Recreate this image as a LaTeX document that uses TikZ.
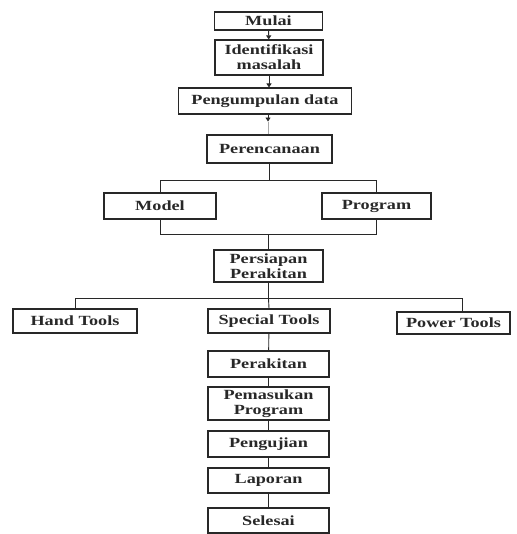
\documentclass[tikz,border=0pt]{standalone}
\usepackage{fontspec}
\setmainfont{Liberation Serif}[FakeStretch=1.3]
\usetikzlibrary{positioning, arrows.meta, calc}
\definecolor{LineGray}{RGB}{40, 40, 40}

\tikzset{
  stepbox/.style={draw=LineGray, line width=1.1pt, align=center, inner sep=0pt,
    font=\bfseries\fontsize{14}{15}\selectfont, text=LineGray},
  link/.style={draw=LineGray, line width=0.9pt},
  flow/.style={link, -{Triangle[length=4pt,width=5pt]}}
}

\begin{document}
\begin{tikzpicture}[x=1pt, y=1pt]
    \useasboundingbox (0,0) rectangle (516,-534);

    % Top of the flow
    \node[stepbox, minimum width=108, minimum height=18] (mulai) at (268.5,-21) {Mulai};
    \node[stepbox, minimum width=108, minimum height=35] (ident) at (269,-57.5) {Identifikasi\\masalah};
    \node[stepbox, minimum width=173, minimum height=26] (kumpul) at (265,-101) {Pengumpulan data};
    \node[stepbox, minimum width=125, minimum height=28] (rencana) at (269.5,-149) {Perencanaan};

    % Model and program
    \node[stepbox, minimum width=112, minimum height=26] (model) at (160,-206) {Model};
    \node[stepbox, minimum width=109, minimum height=26] (program) at (376.5,-206) {Program};
    \node[stepbox, minimum width=109, minimum height=32] (siap) at (268.5,-266) {Persiapan\\Perakitan};

    % Tools
    \node[stepbox, minimum width=124, minimum height=24] (hand) at (75,-321) {Hand Tools};
    \node[stepbox, minimum width=122, minimum height=24] (special) at (269,-321) {Special Tools};
    \node[stepbox, minimum width=113, minimum height=22] (power) at (453.5,-323) {Power Tools};

    % Bottom of the flow
    \node[stepbox, minimum width=121, minimum height=26] (rakit) at (268.5,-364) {Perakitan};
    \node[stepbox, minimum width=121, minimum height=33] (masuk) at (268.5,-403.5) {Pemasukan\\Program};
    \node[stepbox, minimum width=121, minimum height=26] (uji) at (268.5,-444) {Pengujian};
    \node[stepbox, minimum width=121, minimum height=25] (lapor) at (268.5,-480.5) {Laporan};
    \node[stepbox, minimum width=121, minimum height=25] (selesai) at (268.5,-520.5) {Selesai};

    % Arrows
    \draw[flow] (mulai) -- (ident);
    \draw[flow] (ident) -- (ident |- kumpul.north);
    \coordinate (gap) at ($(kumpul.south)+(3,-7)$);
    \draw[flow] (kumpul.south -| gap) -- (gap);
    \draw[link, LineGray!40] (gap) -- (gap |- rencana.north);

    % Split to model / program and join again
    \coordinate (split1) at ($(rencana.south)+(0,-17)$);
    \coordinate (join1) at ($(siap.north)+(0,15)$);
    \draw[link] (rencana.south) -- (split1);
    \draw[link] (model.north) |- (split1) -| (program.north);
    \draw[link] (model.south) |- (join1) -| (program.south);
    \draw[link] (join1) -- (siap.north);

    % Split to the tools
    \coordinate (split2) at ($(siap.south)+(0,-16)$);
    \draw[link] (siap.south) -- (split2);
    \draw[link] (hand.north) |- (split2) -| ([xshift=9]power.north);
    \draw[link] (split2) -- (special.north);

    % Straight chain
    \draw[link] (special) -- (rakit);
    \draw[link] (rakit) -- (masuk);
    \draw[link] (masuk) -- (uji);
    \draw[link] (uji) -- (lapor);
    \draw[link] (lapor) -- (selesai);
\end{tikzpicture}
\end{document}
